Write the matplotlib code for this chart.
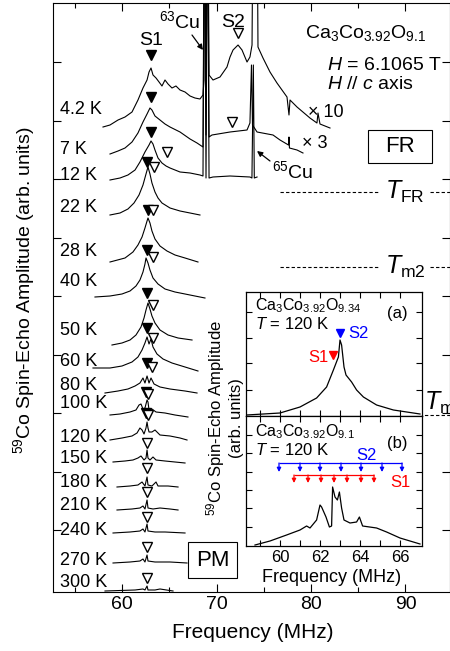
import numpy as np
import matplotlib
matplotlib.use("Agg")
import matplotlib.pyplot as plt
from matplotlib.patches import Rectangle

plt.rcParams["font.family"] = ["Liberation Sans", "DejaVu Sans"]
plt.rcParams["mathtext.fontset"] = "custom"
plt.rcParams["mathtext.rm"] = "Liberation Sans"
plt.rcParams["mathtext.it"] = "Liberation Sans:italic"
plt.rcParams["mathtext.bf"] = "Liberation Sans:bold"

# ── Main panel: 59Co spectra, frequency [MHz] / amplitude above own baseline ──
temps = ["4.2 K", "7 K", "12 K", "22 K", "28 K", "40 K", "50 K", "60 K", "80 K",
         "100 K", "120 K", "150 K", "180 K", "210 K", "240 K", "270 K", "300 K"]
offsets = [464, 437, 412, 377, 330, 295, 247, 223, 199,
           176, 152, 129, 105, 82, 59, 29, 1]

f_4K2 = [57.99, 58.73, 59.58, 60.32, 61.06, 61.69, 62.22, 62.65, 62.86, 63.07,
         63.28, 63.60, 63.92, 64.23, 64.55, 64.87, 65.29, 65.71, 66.14, 66.67,
         67.20, 67.72, 68.25, 68.57, 68.68, 68.73, 68.89, 69.05, 69.21, 69.63,
         70.37, 71.11, 71.43, 71.75, 72.28, 72.70, 73.23, 73.54, 73.76, 73.92,
         74.25, 74.39, 74.92, 75.66, 76.40, 77.46, 77.67, 77.78, 78.52, 79.89,
         80.63, 80.74, 80.95, 82.01]
a_4K2 = [1, 3, 8, 11, 16, 28, 40, 48, 56, 60,
         53, 50, 46, 42, 48, 44, 40, 42, 38, 36,
         32, 30, 29, 33, 48, 300, 68, 300, 53, 48,
         51, 61, 71, 78, 83, 78, 66, 71, 83, 300,
         300, 81, 70, 56, 45, 31, 13, 28, 21, 10,
         5, 15, 4, 0]

f_7K = [58.73, 59.58, 60.32, 61.06, 61.69, 62.22, 62.65, 62.96, 63.17, 63.49,
        64.02, 64.55, 65.08, 66.14, 67.20, 67.94, 68.57, 68.73, 68.89, 69.05,
        69.21, 69.52, 71.43, 73.23, 73.54, 73.70, 73.81, 74.29, 75.98, 76.72,
        77.62, 77.67, 77.72, 78.52, 79.15]
a_7K = [1, 4, 7, 13, 22, 33, 41, 47, 45, 39,
        35, 31, 28, 23, 16, 12, 8, 300, 20, 300,
        18, 20, 23, 25, 32, 90, 30, 23, 20, 15,
        10, 18, 7, 5, 2]

f_12K = [58.73, 59.79, 60.63, 61.38, 61.90, 62.43, 62.86, 63.07, 63.28, 63.49,
         63.81, 64.23, 64.66, 65.08, 66.14, 67.20, 68.25, 68.57, 68.73, 68.89,
         69.05, 69.21, 69.63, 71.43, 73.54, 73.75, 73.90, 74.00, 74.29]
a_12K = [0, 2, 5, 10, 18, 28, 35, 39, 36, 30,
         22, 17, 14, 12, 8, 7, 5, 4, 300, 2,
         300, 2, 3, 4, 3, 2, 115, 2, 3]

f_22K = [58.73, 59.79, 60.63, 61.27, 61.80, 62.22, 62.54, 62.75, 62.96, 63.17,
         63.49, 63.81, 64.23, 65.08, 66.14, 67.20, 68.25]
a_22K = [0, 2, 6, 12, 20, 30, 41, 48, 41, 32, 23, 17, 12, 7, 4, 2, 0]

f_28K = [58.73, 60.32, 61.16, 61.69, 62.12, 62.43, 62.65, 62.75, 62.96, 63.17,
         63.49, 64.02, 64.76, 65.61, 66.67, 68.04]
a_28K = [0, 4, 10, 17, 25, 34, 41, 44, 39, 31, 23, 16, 11, 7, 4, 0]

f_40K = [57.14, 58.73, 60.00, 60.85, 61.48, 61.90, 62.22, 62.43, 62.54, 62.75,
         62.96, 63.28, 63.81, 64.55, 65.61, 66.67, 67.72, 68.78]
a_40K = [0, 1, 3, 6, 11, 17, 25, 33, 39, 34, 27, 19, 13, 8, 5, 3, 1, -1]

f_50K = [58.94, 60.00, 60.85, 61.48, 62.01, 62.33, 62.54, 62.75, 62.96, 63.17,
         63.49, 64.02, 64.87, 65.93, 67.41]
a_50K = [0, 2, 5, 10, 18, 27, 35, 42, 36, 29, 22, 15, 10, 7, 5]

f_60K = [56.93, 58.73, 60.00, 61.06, 61.69, 62.12, 62.43, 62.65, 62.86, 63.07,
         63.28, 63.70, 64.34, 65.29, 66.67, 68.04]
a_60K = [1, 1, 3, 7, 12, 19, 26, 32, 25, 30, 22, 15, 10, 6, 2, -2]

f_80K = [58.20, 59.58, 60.63, 61.38, 61.90, 62.22, 62.43, 62.65, 62.86, 63.07,
         63.39, 64.02, 65.08, 66.67, 67.94]
a_80K = [0, 2, 4, 7, 10, 15, 10, 17, 10, 15, 9, 6, 4, 2, 0]

f_100K = [58.73, 59.79, 60.85, 61.48, 61.80, 62.01, 62.22, 62.43, 62.65, 62.75,
          62.86, 63.17, 63.60, 64.55, 65.61, 66.98]
a_100K = [1, 2, 4, 6, 11, 12, 7, 8, 16, 14, 6, 7, 4, 3, 1, -1]

f_120K = [58.73, 60.00, 61.06, 61.59, 61.90, 62.12, 62.33, 62.54, 62.65, 62.75,
          62.86, 63.17, 63.49, 64.02, 65.08, 66.14, 66.88]
a_120K = [0, 2, 4, 7, 12, 10, 6, 12, 18, 12, 8, 8, 10, 5, 4, 2, 0]

f_150K = [59.05, 60.32, 61.16, 61.69, 62.01, 62.33, 62.54, 62.65, 62.75, 62.96,
          63.28, 63.60, 64.55, 65.61, 66.67]
a_150K = [1, 2, 3, 5, 7, 3, 5, 13, 5, 3, 6, 3, 2, 1, 0]

f_180K = [59.47, 60.85, 61.69, 62.12, 62.43, 62.65, 62.75, 63.17, 63.60, 63.81,
          64.87, 65.93]
a_180K = [0, 1, 2, 5, 1, 10, 2, 1, 5, 1, 1, 0]

f_210K = [59.47, 61.06, 61.90, 62.22, 62.43, 62.65, 62.75, 63.28, 64.02, 65.08, 65.93]
a_210K = [0, 1, 2, 4, 1, 10, 2, 1, 2, 1, 0]

f_240K = [59.05, 60.85, 61.90, 62.22, 62.43, 62.65, 62.75, 63.49, 64.55, 66.67]
a_240K = [0, 1, 2, 4, 1, 9, 2, 1, 1, 0]

f_270K = [59.05, 60.85, 61.90, 62.22, 62.43, 62.65, 62.75, 63.49, 65.08, 66.88]
a_270K = [0, 1, 2, 4, 1, 8, 2, 1, 1, 0]

f_300K = [58.20, 61.38, 62.22, 62.43, 62.65, 62.75, 63.49, 64.02, 65.40]
a_300K = [0, 1, 2, 1, 5, 1, 1, 2, 0]

spec_f = [f_4K2, f_7K, f_12K, f_22K, f_28K, f_40K, f_50K, f_60K, f_80K,
          f_100K, f_120K, f_150K, f_180K, f_210K, f_240K, f_270K, f_300K]
spec_a = [a_4K2, a_7K, a_12K, a_22K, a_28K, a_40K, a_50K, a_60K, a_80K,
          a_100K, a_120K, a_150K, a_180K, a_210K, a_240K, a_270K, a_300K]

# S1 (filled) and S2 (open) peak markers: frequency and plot level
s1_f = [63.07, 63.07, 63.07, 62.65, 62.75, 62.65, 62.65, 62.65, 62.65, 62.54, 62.54]
s1_y = [537, 495, 460, 430, 382, 342, 299, 264, 229, 200, 179]
s2_f = [72.28, 71.64, 64.76, 63.39, 63.28, 63.28, 63.28, 63.28, 63.17,
        62.75, 62.75, 62.65, 62.65, 62.65, 62.65, 62.65, 62.65]
s2_y = [559, 470, 440, 425, 382, 335, 287, 254, 225,
        198, 177, 149, 124, 100, 75, 45, 14]

# transition levels (same arb. scale)
bound_y = [400, 325, 177]

# ── Inset data (T = 120 K) ──
fa = [58.33, 60.0, 61.0, 61.83, 62.33, 62.67, 62.92, 63.0, 63.08, 63.2,
      63.3, 63.58, 63.83, 64.17, 64.83, 65.67, 67.0]
ha = [1, 3, 9, 18, 29, 46, 59, 76, 71, 49, 41, 34, 26, 19, 11, 6, 2]
fb = [58.75, 59.5, 60.33, 61.0, 61.33, 61.5, 61.83, 62.0, 62.08, 62.3,
      62.47, 62.58, 62.63, 62.75, 62.87, 62.97, 63.08, 63.2, 63.5, 63.83,
      63.97, 64.13, 64.83, 65.33, 66.0, 67.0]
hb = [1, 5, 11, 16, 20, 18, 26, 41, 39, 29,
      19, 20, 59, 49, 46, 54, 38, 26, 23, 24,
      29, 20, 18, 14, 8, 2]
comb_s2 = [59.95, 61.0, 62.0, 63.05, 64.05, 65.1, 66.1]
comb_s1 = [60.7, 61.4, 62.05, 62.7, 63.35, 64.05, 64.7]

W, H = 450, 651
fig = plt.figure(figsize=(W / 100, H / 100), dpi=100)


def px_box(l, t, r, b):
    return [l / W, 1 - b / H, (r - l) / W, (b - t) / H]


def fx(px):
    return 60 + (px - 122) / 9.45


def fy(py):
    return 592 - py


ax = fig.add_axes(px_box(53, 3, 450, 592))
ax.set_xlim(fx(53), fx(450))
ax.set_ylim(0, 589)

for f, a, off in zip(spec_f, spec_a, offsets):
    ax.plot(f, off + np.array(a), color="black", lw=0.8)

ax.plot(s1_f, s1_y, "v", ms=7, color="black", ls="none")
ax.plot(s2_f, s2_y, "v", ms=7, mfc="white", mec="black", mew=1.0, ls="none")

lab_base = [114, 154, 180, 212, 256, 286, 335, 366, 390, 408, 442, 463, 487, 510,
            535, 565, 587]
for t, yb in zip(temps, lab_base):
    ax.text(fx(60), fy(yb), t, fontsize=13, ha="left", va="baseline")

# boundaries
dash = (0, (3, 2))
ax.hlines(bound_y[0], fx(280), fx(380), colors="black", linestyles=dash, lw=0.8)
ax.hlines(bound_y[0], fx(430), fx(452), colors="black", linestyles=dash, lw=0.8)
ax.hlines(bound_y[1], fx(280), fx(380), colors="black", linestyles=dash, lw=0.8)
ax.hlines(bound_y[1], fx(430), fx(452), colors="black", linestyles=dash, lw=0.8)
ax.hlines(bound_y[2], fx(280), fx(452), colors="black", linestyles=dash, lw=0.8)
ax.text(fx(385), bound_y[0], r"$T_{\rm FR}$", fontsize=18, va="center", ha="left")
ax.text(fx(385), bound_y[1], r"$T_{\rm m2}$", fontsize=18, va="center", ha="left")
ax.text(fx(424), fy(403), r"$T_{\rm m1}$", fontsize=18, va="center", ha="left")

# annotations
ax.text(fx(151), fy(45), "S1", fontsize=14, ha="center", va="baseline")
ax.text(fx(233), fy(27), "S2", fontsize=14, ha="center", va="baseline")
ax.text(fx(180), fy(28), r"$^{63}$Cu", fontsize=14, ha="center", va="baseline")
ax.annotate("", xy=(fx(203), fy(50)), xytext=(fx(192), fy(35)),
            arrowprops=dict(arrowstyle="-|>", color="black", lw=0.9,
                            mutation_scale=8, shrinkA=0, shrinkB=0))
ax.text(fx(272), fy(178), r"$^{65}$Cu", fontsize=14, ha="left", va="baseline")
ax.annotate("", xy=(fx(257), fy(151)), xytext=(fx(270), fy(161)),
            arrowprops=dict(arrowstyle="-|>", color="black", lw=0.9,
                            mutation_scale=8, shrinkA=0, shrinkB=0))
ax.text(fx(308), fy(117), "× 10", fontsize=13, ha="left", va="baseline")
ax.text(fx(302), fy(148), "× 3", fontsize=13, ha="left", va="baseline")
ax.text(fx(305), fy(38), r"Ca$_3$Co$_{3.92}$O$_{9.1}$", fontsize=14, ha="left",
        va="baseline")
ax.text(fx(327), fy(70), r"$H$ = 6.1065 T", fontsize=14, ha="left", va="baseline")
ax.text(fx(327), fy(89), r"$H$ // $c$ axis", fontsize=14, ha="left", va="baseline")

ax.add_patch(Rectangle((fx(368), fy(163)), fx(432) - fx(368), 33, fill=False,
                       lw=0.8, ec="black"))
ax.text(fx(400), fy(147), "FR", fontsize=16, ha="center", va="center")
ax.add_patch(Rectangle((fx(188), fy(578)), fx(237) - fx(188), 36, fill=False,
                       lw=0.8, ec="black"))
ax.text(fx(212.5), fy(560), "PM", fontsize=16, ha="center", va="center")

ax.set_xticks([60, 70, 80, 90])
ax.set_xticks([55, 65, 75, 85], minor=True)
ax.set_yticks([530, 471.5, 413, 354.5, 296, 237.5, 179, 120.5, 62])
ax.set_yticklabels([])
ax.tick_params(which="both", direction="in", top=True, right=True, width=0.8)
ax.tick_params(which="major", length=6, labelsize=14, pad=3)
ax.tick_params(which="minor", length=3.5)
for s in ax.spines.values():
    s.set_linewidth(0.8)
fig.text(253 / W, 1 - 632 / H, "Frequency (MHz)", fontsize=15, ha="center",
         va="center")
fig.text(24 / W, 1 - 290 / H, r"$^{59}$Co Spin-Echo Amplitude (arb. units)",
         fontsize=14, rotation=90, ha="center", va="center")

# ── Inset ──


def gx(px):
    return 60 + (px - 280) / 20.0


axa = fig.add_axes(px_box(246, 292, 422, 416))
axb = fig.add_axes(px_box(246, 416, 422, 546))
for a_ in (axa, axb):
    a_.set_facecolor("white")
    a_.set_xlim(gx(246), gx(422))
    a_.set_xticks([60, 62, 64, 66])
    a_.set_xticks([59, 61, 63, 65], minor=True)
    a_.tick_params(which="both", direction="in", top=True, right=True, length=4,
                   width=0.8, labelsize=12, pad=3)
    for s in a_.spines.values():
        s.set_linewidth(0.9)
axa.set_ylim(0, 124)
axb.set_ylim(0, 130)
axa.set_yticks([26, 53, 78, 104])
axb.set_yticks([19, 38, 56, 74, 93, 111])
axa.set_yticklabels([])
axb.set_yticklabels([])
axa.set_xticklabels([])

axa.plot(fa, ha, color="black", lw=0.9)
axb.plot(fb, hb, color="black", lw=0.9)

axa.plot([63.0], [83], "v", ms=5.5, color="blue")
axa.plot([62.67], [61], "v", ms=5.5, color="red")
axa.text(gx(348), 416 - 338, "S2", color="blue", fontsize=12, ha="left", va="baseline")
axa.text(gx(329), 416 - 362, "S1", color="red", fontsize=12, ha="right", va="baseline")
axa.text(gx(255), 416 - 310, r"Ca$_3$Co$_{3.92}$O$_{9.34}$", fontsize=11.5,
         va="baseline")
axa.text(gx(255), 416 - 329, r"$T$ = 120 K", fontsize=12, va="baseline")
axa.text(gx(397), 416 - 318, "(a)", fontsize=12, ha="center", va="baseline")

for comb, col, top, tip in ((comb_s2, "blue", 83, 74), (comb_s1, "red", 71, 63)):
    axb.hlines(top, comb[0], comb[-1], colors=col, lw=0.9)
    for f in comb:
        axb.annotate("", xy=(f, tip), xytext=(f, top),
                     arrowprops=dict(arrowstyle="-|>", color=col, lw=0.9,
                                     mutation_scale=6, shrinkA=0, shrinkB=0))
axb.text(gx(366), 546 - 460, "S2", color="blue", fontsize=12, ha="center",
         va="baseline")
axb.text(gx(390), 546 - 487, "S1", color="red", fontsize=12, ha="left", va="baseline")
axb.text(gx(255), 546 - 436, r"Ca$_3$Co$_{3.92}$O$_{9.1}$", fontsize=11.5,
         va="baseline")
axb.text(gx(255), 546 - 455, r"$T$ = 120 K", fontsize=12, va="baseline")
axb.text(gx(397), 546 - 448, "(b)", fontsize=12, ha="center", va="baseline")

fig.text(332 / W, 1 - 577 / H, "Frequency (MHz)", fontsize=13, ha="center",
         va="center")
fig.text(224 / W, 1 - 418 / H, "$^{59}$Co Spin-Echo Amplitude\n(arb. units)",
         fontsize=12, rotation=90, ha="center", va="center", multialignment="center")

fig.savefig("out.png", dpi=100)
